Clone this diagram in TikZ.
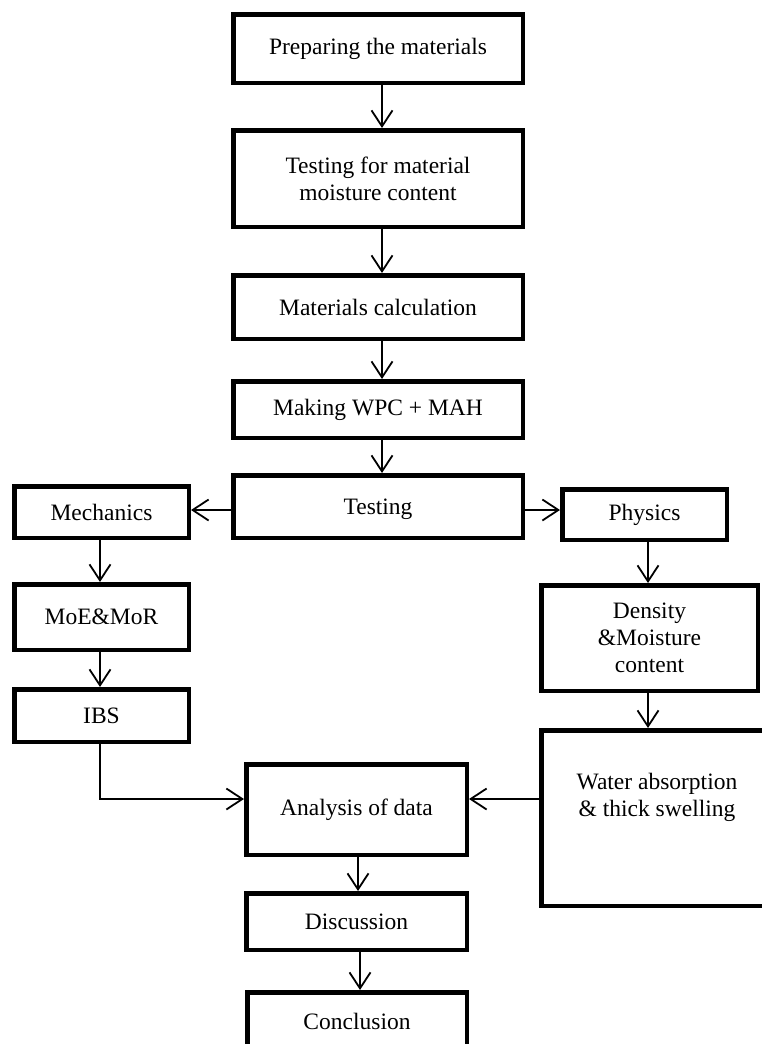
\documentclass[tikz,border=0pt]{standalone}
\usepackage{fontspec}
\setmainfont{Liberation Serif}
\usetikzlibrary{arrows.meta}
\begin{document}
\begin{tikzpicture}[x=1pt,y=-1pt,
  box/.style={draw, line width=4.5pt, inner sep=0pt, align=center, font=\fontsize{23.5}{27}\selectfont},
  txt/.style={inner sep=0pt, align=center, font=\fontsize{23.5}{27}\selectfont},
  arr/.style={line width=1.8pt, -{Straight Barb[length=16pt,width=21pt]}}]
\useasboundingbox[fill=white] (0,0) rectangle (761,1044);
\node[box, minimum width=289.5pt, minimum height=68.5pt] (b1) at (378,48.5) {Preparing the materials};
\node[box, minimum width=289.5pt, minimum height=96.5pt] (b2) at (378,178.5) {Testing for material\\moisture content};
\node[box, minimum width=289.5pt, minimum height=63.5pt] (b3) at (378,307) {Materials calculation};
\node[box, minimum width=289.5pt, minimum height=56.5pt] (b4) at (378,409.5) {Making WPC + MAH};
\node[box, minimum width=289.5pt, minimum height=62.5pt, text depth=0pt] (test) at (378,506.5) {Testing};
\node[box, minimum width=174.5pt, minimum height=51.5pt] (mech) at (101.5,512) {Mechanics};
\node[box, minimum width=174.5pt, minimum height=65.5pt] (moe) at (101.5,617) {MoE\&MoR};
\node[box, minimum width=174.5pt, minimum height=52.5pt] (ibs) at (101.5,715.5) {IBS};
\node[box, minimum width=164.5pt, minimum height=50.5pt] (phys) at (644.5,514.5) {Physics};
\node[box, minimum width=216.5pt, minimum height=105.5pt] (dens) at (649.5,638) {Density\\\&Moisture\\content};
\node[box, minimum width=231.5pt, minimum height=175.5pt] (water) at (657,818) {};
\node[txt] (watertxt) at (657,797) {Water absorption\\\& thick swelling};
\node[box, minimum width=220.5pt, minimum height=90.5pt] (ana) at (356.5,809.5) {Analysis of data};
\node[box, minimum width=220.5pt, minimum height=56.5pt] (disc) at (356.5,921.5) {Discussion};
\node[box, minimum width=219.5pt, minimum height=57.5pt] (concl) at (357,1021) {Conclusion};

\draw[arr] ([xshift=4pt]b1.south) -- ([xshift=4pt]b2.north);
\draw[arr] ([xshift=4pt]b2.south) -- ([xshift=4pt]b3.north);
\draw[arr] ([xshift=4pt]b3.south) -- ([xshift=4pt]b4.north);
\draw[arr] ([xshift=4pt]b4.south) -- ([xshift=4pt]test.north);
\draw[arr] ([yshift=-3.5pt]test.west) -- ([yshift=2pt]mech.east);
\draw[arr] ([yshift=-3.5pt]test.east) -- ([yshift=4.5pt]phys.west);
\draw[arr] ([xshift=-1.5pt]mech.south) -- ([xshift=-1.5pt]moe.north);
\draw[arr] ([xshift=-1.5pt]moe.south) -- ([xshift=-1.5pt]ibs.north);
\draw[arr] ([xshift=3.5pt]phys.south) -- ([xshift=-1.5pt]dens.north);
\draw[arr] ([xshift=-1.5pt]dens.south) -- ([xshift=-9pt]water.north);
\draw[arr] ([xshift=-1.5pt]ibs.south) |- ([yshift=10.5pt]ana.west);
\draw[arr] ([yshift=19pt]water.west) -- ([yshift=10.5pt]ana.east);
\draw[arr] ([xshift=1.5pt]ana.south) -- ([xshift=1.5pt]disc.north);
\draw[arr] ([xshift=3.5pt]disc.south) -- ([xshift=3pt]concl.north);
\end{tikzpicture}
\end{document}
